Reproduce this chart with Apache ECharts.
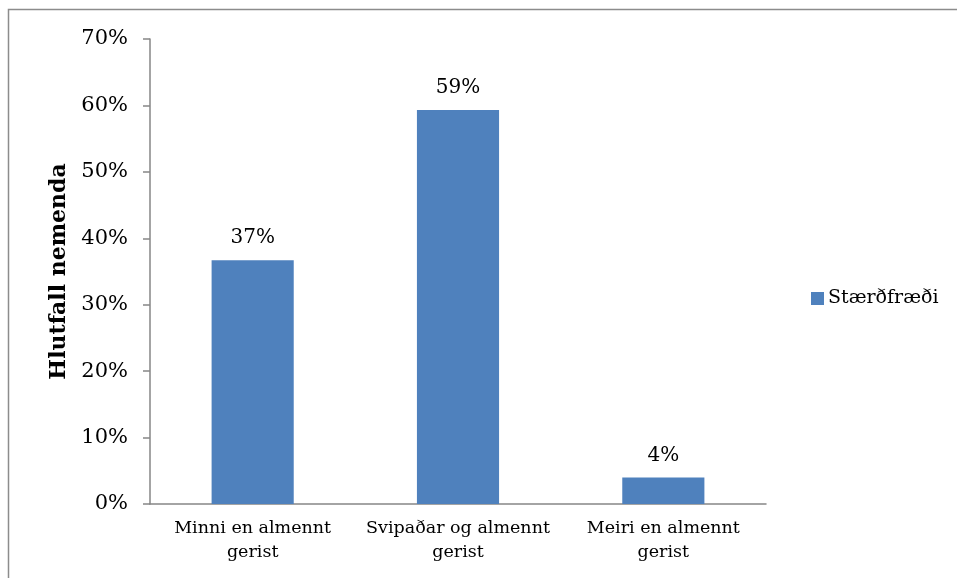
<!DOCTYPE html>
<html>
<head>
<meta charset="utf-8">
<script src="https://cdn.jsdelivr.net/npm/echarts@6/dist/echarts.min.js"></script>
<style>
  html, body { margin: 0; padding: 0; background: #fff; }
  #chart { width: 957px; height: 578px; }
</style>
</head>
<body>
<div id="chart"></div>
<script>
  // gögn
  const categories = ['Minni en almennt\ngerist', 'Svipaðar og almennt\ngerist', 'Meiri en almennt\ngerist']
  const values = [36.7, 59.3, 4.0]
  const valueLabels = ['37%', '59%', '4%']
  const seriesName = 'Stærðfræði'

  const font = 'DejaVu Serif'
  const chart = echarts.init(document.getElementById('chart'))

  chart.setOption({
    animation: false,
    graphic: [{
      type: 'rect',
      shape: { x: 8.5, y: 9.5, width: 960, height: 580 },
      style: { fill: 'none', stroke: '#8c8c8c', lineWidth: 1.5 },
      silent: true
    }],
    legend: {
      data: [seriesName],
      left: 806,
      top: 284,
      itemWidth: 13,
      itemHeight: 13,
      itemGap: 5,
      icon: 'rect',
      textStyle: { fontFamily: font, fontSize: 19, color: '#000', padding: [0, 0, 0, -1] }
    },
    grid: {
      left: 150,
      right: 191,
      top: 39,
      bottom: 74
    },
    xAxis: {
      type: 'category',
      data: categories,
      axisLine: { lineStyle: { color: '#868686', width: 1.5 } },
      axisTick: { length: 6, lineStyle: { color: '#868686', width: 1.5 } },
      axisLabel: {
        interval: 0,
        fontFamily: font,
        fontSize: 17.5,
        color: '#000',
        lineHeight: 24,
        margin: 12
      }
    },
    yAxis: {
      type: 'value',
      min: 0,
      max: 70,
      interval: 10,
      name: 'Hlutfall nemenda',
      nameLocation: 'middle',
      nameGap: 79,
      nameTextStyle: { fontFamily: font, fontSize: 22, fontWeight: 'bold', color: '#000' },
      splitLine: { show: false },
      axisLine: { show: true, lineStyle: { color: '#868686', width: 1.5 } },
      axisTick: { show: true, length: 7, lineStyle: { color: '#868686', width: 1.5 } },
      axisLabel: {
        fontFamily: font,
        fontSize: 21,
        color: '#000',
        margin: 22,
        formatter: '{value}%'
      }
    },
    series: [{
      name: seriesName,
      type: 'bar',
      data: values,
      barWidth: '40%',
      itemStyle: { color: '#4F81BD' },
      label: {
        show: true,
        position: 'top',
        distance: 12,
        fontFamily: font,
        fontSize: 20,
        color: '#000',
        formatter: (p) => valueLabels[p.dataIndex]
      }
    }]
  })
</script>
</body>
</html>
